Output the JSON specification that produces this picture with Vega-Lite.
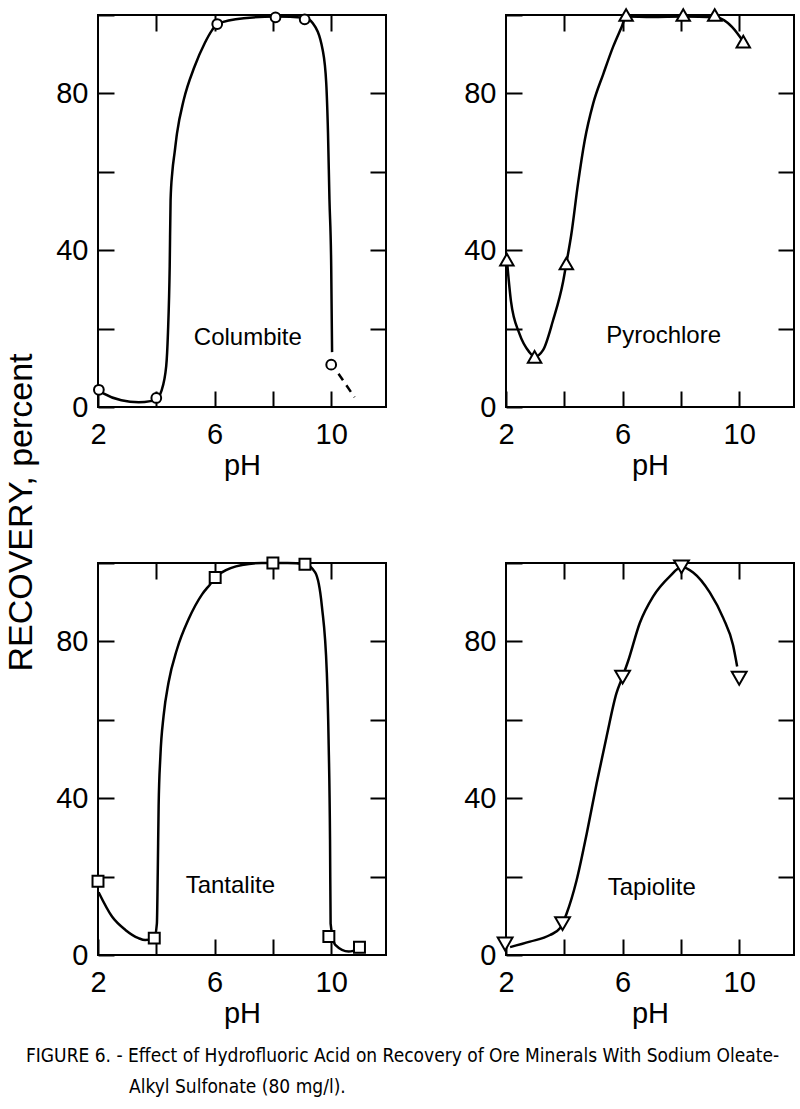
{
  "$schema": "https://vega.github.io/schema/vega-lite/v6.json",
  "padding": {"left": 3, "top": 0, "right": 2, "bottom": 2},
  "background": "white",
  "config": {
    "view": {"stroke": "black", "strokeWidth": 2},
    "axis": {"domain": false, "grid": false, "tickColor": "black", "tickWidth": 2, "labelFont": "Liberation Sans", "labelFontSize": 29, "labelColor": "black", "titleFont": "Liberation Sans", "titleFontSize": 29, "titleFontWeight": "normal", "titleColor": "black", "labelOverlap": false, "labelFlush": false}
  },
  "datasets": {
    "curves": [
      {"mineral": "Columbite", "seg": "solid", "pH": 2.03, "recovery": 4.2},
      {"mineral": "Columbite", "seg": "solid", "pH": 2.2, "recovery": 3.4},
      {"mineral": "Columbite", "seg": "solid", "pH": 2.8, "recovery": 1.7},
      {"mineral": "Columbite", "seg": "solid", "pH": 3.4, "recovery": 1.2},
      {"mineral": "Columbite", "seg": "solid", "pH": 3.8, "recovery": 1.5},
      {"mineral": "Columbite", "seg": "solid", "pH": 4.0, "recovery": 2.0},
      {"mineral": "Columbite", "seg": "solid", "pH": 4.17, "recovery": 4},
      {"mineral": "Columbite", "seg": "solid", "pH": 4.34, "recovery": 10.4},
      {"mineral": "Columbite", "seg": "solid", "pH": 4.4, "recovery": 18.9},
      {"mineral": "Columbite", "seg": "solid", "pH": 4.46, "recovery": 35.9},
      {"mineral": "Columbite", "seg": "solid", "pH": 4.49, "recovery": 52.8},
      {"mineral": "Columbite", "seg": "solid", "pH": 4.55, "recovery": 60},
      {"mineral": "Columbite", "seg": "solid", "pH": 4.63, "recovery": 65},
      {"mineral": "Columbite", "seg": "solid", "pH": 4.71, "recovery": 69.8},
      {"mineral": "Columbite", "seg": "solid", "pH": 4.94, "recovery": 78.3},
      {"mineral": "Columbite", "seg": "solid", "pH": 5.31, "recovery": 86.8},
      {"mineral": "Columbite", "seg": "solid", "pH": 5.66, "recovery": 92.8},
      {"mineral": "Columbite", "seg": "solid", "pH": 5.92, "recovery": 96.2},
      {"mineral": "Columbite", "seg": "solid", "pH": 6.09, "recovery": 97.7},
      {"mineral": "Columbite", "seg": "solid", "pH": 7.0, "recovery": 99.2},
      {"mineral": "Columbite", "seg": "solid", "pH": 8.09, "recovery": 99.6},
      {"mineral": "Columbite", "seg": "solid", "pH": 9.09, "recovery": 99.3},
      {"mineral": "Columbite", "seg": "solid", "pH": 9.37, "recovery": 97.9},
      {"mineral": "Columbite", "seg": "solid", "pH": 9.71, "recovery": 91},
      {"mineral": "Columbite", "seg": "solid", "pH": 9.83, "recovery": 82.6},
      {"mineral": "Columbite", "seg": "solid", "pH": 9.89, "recovery": 70},
      {"mineral": "Columbite", "seg": "solid", "pH": 9.94, "recovery": 53},
      {"mineral": "Columbite", "seg": "solid", "pH": 10.0, "recovery": 36},
      {"mineral": "Columbite", "seg": "solid", "pH": 10.03, "recovery": 14},
      {"mineral": "Columbite", "seg": "dash", "pH": 10.25, "recovery": 8.5},
      {"mineral": "Columbite", "seg": "dash", "pH": 10.8, "recovery": 2.5},
      {"mineral": "Pyrochlore", "seg": "solid", "pH": 2.03, "recovery": 37.6},
      {"mineral": "Pyrochlore", "seg": "solid", "pH": 2.17, "recovery": 27},
      {"mineral": "Pyrochlore", "seg": "solid", "pH": 2.46, "recovery": 18.7},
      {"mineral": "Pyrochlore", "seg": "solid", "pH": 2.8, "recovery": 14},
      {"mineral": "Pyrochlore", "seg": "solid", "pH": 2.98, "recovery": 12.8},
      {"mineral": "Pyrochlore", "seg": "solid", "pH": 3.27, "recovery": 14.5},
      {"mineral": "Pyrochlore", "seg": "solid", "pH": 3.61, "recovery": 22},
      {"mineral": "Pyrochlore", "seg": "solid", "pH": 3.96, "recovery": 32},
      {"mineral": "Pyrochlore", "seg": "solid", "pH": 4.07, "recovery": 36.6},
      {"mineral": "Pyrochlore", "seg": "solid", "pH": 4.24, "recovery": 44},
      {"mineral": "Pyrochlore", "seg": "solid", "pH": 4.47, "recovery": 57},
      {"mineral": "Pyrochlore", "seg": "solid", "pH": 4.7, "recovery": 68},
      {"mineral": "Pyrochlore", "seg": "solid", "pH": 4.99, "recovery": 77.4},
      {"mineral": "Pyrochlore", "seg": "solid", "pH": 5.34, "recovery": 85},
      {"mineral": "Pyrochlore", "seg": "solid", "pH": 5.68, "recovery": 92},
      {"mineral": "Pyrochlore", "seg": "solid", "pH": 5.97, "recovery": 97},
      {"mineral": "Pyrochlore", "seg": "solid", "pH": 6.12, "recovery": 99.6},
      {"mineral": "Pyrochlore", "seg": "solid", "pH": 7.0, "recovery": 99.5},
      {"mineral": "Pyrochlore", "seg": "solid", "pH": 8.08, "recovery": 99.6},
      {"mineral": "Pyrochlore", "seg": "solid", "pH": 9.16, "recovery": 99.4},
      {"mineral": "Pyrochlore", "seg": "solid", "pH": 9.6, "recovery": 98},
      {"mineral": "Pyrochlore", "seg": "solid", "pH": 9.94, "recovery": 95.3},
      {"mineral": "Pyrochlore", "seg": "solid", "pH": 10.14, "recovery": 93.2},
      {"mineral": "Tantalite", "seg": "solid", "pH": 2.02, "recovery": 16},
      {"mineral": "Tantalite", "seg": "solid", "pH": 2.48, "recovery": 9.8},
      {"mineral": "Tantalite", "seg": "solid", "pH": 2.94, "recovery": 6.4},
      {"mineral": "Tantalite", "seg": "solid", "pH": 3.39, "recovery": 4.3},
      {"mineral": "Tantalite", "seg": "solid", "pH": 3.62, "recovery": 3.8},
      {"mineral": "Tantalite", "seg": "solid", "pH": 3.93, "recovery": 4.3},
      {"mineral": "Tantalite", "seg": "solid", "pH": 4.02, "recovery": 8},
      {"mineral": "Tantalite", "seg": "solid", "pH": 4.05, "recovery": 21},
      {"mineral": "Tantalite", "seg": "solid", "pH": 4.08, "recovery": 38},
      {"mineral": "Tantalite", "seg": "solid", "pH": 4.14, "recovery": 50.7},
      {"mineral": "Tantalite", "seg": "solid", "pH": 4.25, "recovery": 61},
      {"mineral": "Tantalite", "seg": "solid", "pH": 4.42, "recovery": 69.5},
      {"mineral": "Tantalite", "seg": "solid", "pH": 4.71, "recovery": 78},
      {"mineral": "Tantalite", "seg": "solid", "pH": 5.11, "recovery": 85.7},
      {"mineral": "Tantalite", "seg": "solid", "pH": 5.57, "recovery": 92},
      {"mineral": "Tantalite", "seg": "solid", "pH": 5.85, "recovery": 94.6},
      {"mineral": "Tantalite", "seg": "solid", "pH": 6.02, "recovery": 96.3},
      {"mineral": "Tantalite", "seg": "solid", "pH": 6.25, "recovery": 97.6},
      {"mineral": "Tantalite", "seg": "solid", "pH": 6.94, "recovery": 99.5},
      {"mineral": "Tantalite", "seg": "solid", "pH": 7.62, "recovery": 100},
      {"mineral": "Tantalite", "seg": "solid", "pH": 8.0, "recovery": 100},
      {"mineral": "Tantalite", "seg": "solid", "pH": 8.5, "recovery": 100},
      {"mineral": "Tantalite", "seg": "solid", "pH": 9.1, "recovery": 99.7},
      {"mineral": "Tantalite", "seg": "solid", "pH": 9.45, "recovery": 97.6},
      {"mineral": "Tantalite", "seg": "solid", "pH": 9.68, "recovery": 89},
      {"mineral": "Tantalite", "seg": "solid", "pH": 9.85, "recovery": 72},
      {"mineral": "Tantalite", "seg": "solid", "pH": 9.91, "recovery": 55},
      {"mineral": "Tantalite", "seg": "solid", "pH": 9.96, "recovery": 29.4},
      {"mineral": "Tantalite", "seg": "solid", "pH": 9.98, "recovery": 8},
      {"mineral": "Tantalite", "seg": "solid", "pH": 10.14, "recovery": 2.6},
      {"mineral": "Tantalite", "seg": "solid", "pH": 10.6, "recovery": 0.9},
      {"mineral": "Tantalite", "seg": "solid", "pH": 10.97, "recovery": 1.5},
      {"mineral": "Tapiolite", "seg": "solid", "pH": 2.14, "recovery": 2},
      {"mineral": "Tapiolite", "seg": "solid", "pH": 2.82, "recovery": 3.4},
      {"mineral": "Tapiolite", "seg": "solid", "pH": 3.51, "recovery": 5.1},
      {"mineral": "Tapiolite", "seg": "solid", "pH": 3.85, "recovery": 6.8},
      {"mineral": "Tapiolite", "seg": "solid", "pH": 4.08, "recovery": 10.6},
      {"mineral": "Tapiolite", "seg": "solid", "pH": 4.42, "recovery": 19},
      {"mineral": "Tapiolite", "seg": "solid", "pH": 4.77, "recovery": 31},
      {"mineral": "Tapiolite", "seg": "solid", "pH": 5.11, "recovery": 43.8},
      {"mineral": "Tapiolite", "seg": "solid", "pH": 5.45, "recovery": 55.7},
      {"mineral": "Tapiolite", "seg": "solid", "pH": 5.79, "recovery": 66.8},
      {"mineral": "Tapiolite", "seg": "solid", "pH": 6.0, "recovery": 71},
      {"mineral": "Tapiolite", "seg": "solid", "pH": 6.19, "recovery": 75},
      {"mineral": "Tapiolite", "seg": "solid", "pH": 6.59, "recovery": 84.7},
      {"mineral": "Tapiolite", "seg": "solid", "pH": 7.05, "recovery": 91.5},
      {"mineral": "Tapiolite", "seg": "solid", "pH": 7.62, "recovery": 96.6},
      {"mineral": "Tapiolite", "seg": "solid", "pH": 8.02, "recovery": 99},
      {"mineral": "Tapiolite", "seg": "solid", "pH": 8.42, "recovery": 97.6},
      {"mineral": "Tapiolite", "seg": "solid", "pH": 8.99, "recovery": 92.5},
      {"mineral": "Tapiolite", "seg": "solid", "pH": 9.45, "recovery": 86},
      {"mineral": "Tapiolite", "seg": "solid", "pH": 9.79, "recovery": 79},
      {"mineral": "Tapiolite", "seg": "solid", "pH": 9.93, "recovery": 73.6}
    ],
    "points": [
      {"mineral": "Columbite", "pH": 2.03, "recovery": 4.4},
      {"mineral": "Columbite", "pH": 4.0, "recovery": 2.3},
      {"mineral": "Columbite", "pH": 6.09, "recovery": 97.7},
      {"mineral": "Columbite", "pH": 8.09, "recovery": 99.4},
      {"mineral": "Columbite", "pH": 9.09, "recovery": 98.9},
      {"mineral": "Columbite", "pH": 10.0, "recovery": 10.8},
      {"mineral": "Pyrochlore", "pH": 2.03, "recovery": 37.6},
      {"mineral": "Pyrochlore", "pH": 2.98, "recovery": 12.8},
      {"mineral": "Pyrochlore", "pH": 4.07, "recovery": 36.6},
      {"mineral": "Pyrochlore", "pH": 6.12, "recovery": 100},
      {"mineral": "Pyrochlore", "pH": 8.08, "recovery": 100},
      {"mineral": "Pyrochlore", "pH": 9.16, "recovery": 100},
      {"mineral": "Pyrochlore", "pH": 10.14, "recovery": 93.2},
      {"mineral": "Tantalite", "pH": 2.0, "recovery": 18.8},
      {"mineral": "Tantalite", "pH": 3.93, "recovery": 4.3},
      {"mineral": "Tantalite", "pH": 6.02, "recovery": 96.3},
      {"mineral": "Tantalite", "pH": 8.0, "recovery": 100},
      {"mineral": "Tantalite", "pH": 9.1, "recovery": 99.7},
      {"mineral": "Tantalite", "pH": 9.92, "recovery": 4.7},
      {"mineral": "Tantalite", "pH": 10.97, "recovery": 2},
      {"mineral": "Tapiolite", "pH": 1.97, "recovery": 2.8},
      {"mineral": "Tapiolite", "pH": 3.94, "recovery": 8},
      {"mineral": "Tapiolite", "pH": 6.0, "recovery": 70.9},
      {"mineral": "Tapiolite", "pH": 8.02, "recovery": 99},
      {"mineral": "Tapiolite", "pH": 10.0, "recovery": 70.6}
    ],
    "labels": [
      {"mineral": "Columbite", "label": "Columbite", "pH": 7.14, "recovery": 17.6},
      {"mineral": "Pyrochlore", "label": "Pyrochlore", "pH": 7.41, "recovery": 18},
      {"mineral": "Tantalite", "label": "Tantalite", "pH": 6.54, "recovery": 17.5},
      {"mineral": "Tapiolite", "label": "Tapiolite", "pH": 7.0, "recovery": 17}
    ]
  },
  "title": {"text": "Alkyl Sulfonate (80 mg/l).", "orient": "bottom", "anchor": "start", "frame": "group", "dx": 31, "offset": 12, "font": "DejaVu Sans Condensed, sans-serif", "fontSize": 19, "fontWeight": "normal", "color": "black", "baseline": "top"},
  "vconcat": [
    {
      "title": {"text": "FIGURE 6. - Effect of Hydrofluoric Acid on Recovery of Ore Minerals With Sodium Oleate-", "orient": "bottom", "anchor": "start", "frame": "group", "dx": -72, "offset": 18, "font": "DejaVu Sans Condensed, sans-serif", "fontSize": 19, "fontWeight": "normal", "color": "black", "baseline": "top"},
      "columns": 2,
      "spacing": {"row": 156, "column": 120},
      "bounds": "flush",
      "concat": [
        {
          "width": 288, "height": 392,
          "layer": [
            {"data": {"name": "curves"}, "transform": [{"filter": "datum.mineral === 'Columbite' && datum.seg === 'solid'"}],
             "mark": {"type": "line", "interpolate": "monotone", "color": "black", "strokeWidth": 2.5},
             "encoding": {
               "x": {"field": "pH", "type": "quantitative", "scale": {"domain": [2, 11.88], "nice": false, "zero": false}, "axis": {"orient": "bottom", "values": [2, 4, 6, 8, 10], "tickSize": -16, "labelPadding": 29, "labelBaseline": "top", "labelExpr": "(datum.value == 2 || datum.value == 6 || datum.value == 10) ? datum.label : ''", "title": "pH", "titlePadding": 2}},
               "y": {"field": "recovery", "type": "quantitative", "scale": {"domain": [0, 100], "nice": false}, "axis": {"orient": "left", "values": [0, 20, 40, 60, 80, 100], "tickSize": -16, "labelPadding": 26, "labelBaseline": "middle", "labelExpr": "(datum.value == 0 || datum.value == 40 || datum.value == 80) ? datum.label : ''", "title": "RECOVERY, percent", "titleFontSize": 34, "titleX": -67, "titleY": 497, "titleAngle": 270, "titleBaseline": "alphabetic", "titleAlign": "center"}}
             }},
            {"data": {"name": "points"}, "transform": [{"filter": "datum.mineral === 'Columbite'"}],
             "mark": {"type": "point", "shape": "circle", "filled": true, "fill": "white", "stroke": "black", "strokeWidth": 2, "size": 95, "opacity": 1},
             "encoding": {
               "x": {"field": "pH", "type": "quantitative", "scale": {"domain": [2, 11.88], "nice": false, "zero": false}, "axis": {"orient": "top", "values": [4, 6, 8, 10], "tickSize": -16, "labels": false, "title": null}},
               "y": {"field": "recovery", "type": "quantitative", "scale": {"domain": [0, 100], "nice": false}, "axis": {"orient": "right", "values": [20, 40, 60, 80], "tickSize": -16, "labels": false, "title": null}}
             }},
            {"data": {"name": "curves"}, "transform": [{"filter": "datum.mineral === 'Columbite' && datum.seg === 'dash'"}],
             "mark": {"type": "line", "color": "black", "strokeWidth": 2.5, "strokeDash": [8, 6]},
             "encoding": {
               "x": {"field": "pH", "type": "quantitative", "axis": null},
               "y": {"field": "recovery", "type": "quantitative", "axis": null}
             }},
            {"data": {"name": "labels"}, "transform": [{"filter": "datum.mineral === 'Columbite'"}],
             "mark": {"type": "text", "font": "Liberation Sans", "fontSize": 24, "align": "center", "baseline": "middle", "color": "black"},
             "encoding": {
               "x": {"field": "pH", "type": "quantitative", "axis": null},
               "y": {"field": "recovery", "type": "quantitative", "axis": null},
               "text": {"field": "label"}
             }}
          ],
          "resolve": {"axis": {"x": "independent", "y": "independent"}}
        },
        {
          "width": 288, "height": 392,
          "layer": [
            {"data": {"name": "curves"}, "transform": [{"filter": "datum.mineral === 'Pyrochlore'"}],
             "mark": {"type": "line", "interpolate": "monotone", "color": "black", "strokeWidth": 2.5},
             "encoding": {
               "x": {"field": "pH", "type": "quantitative", "scale": {"domain": [2, 11.88], "nice": false, "zero": false}, "axis": {"orient": "bottom", "values": [2, 4, 6, 8, 10], "tickSize": -16, "labelPadding": 29, "labelBaseline": "top", "labelExpr": "(datum.value == 2 || datum.value == 6 || datum.value == 10) ? datum.label : ''", "title": "pH", "titlePadding": 2}},
               "y": {"field": "recovery", "type": "quantitative", "scale": {"domain": [0, 100], "nice": false}, "axis": {"orient": "left", "values": [0, 20, 40, 60, 80, 100], "tickSize": -16, "labelPadding": 26, "labelBaseline": "middle", "labelExpr": "(datum.value == 0 || datum.value == 40 || datum.value == 80) ? datum.label : ''", "title": null}}
             }},
            {"data": {"name": "points"}, "transform": [{"filter": "datum.mineral === 'Pyrochlore'"}],
             "mark": {"type": "point", "shape": "triangle-up", "filled": true, "fill": "white", "stroke": "black", "strokeWidth": 2, "size": 180, "opacity": 1},
             "encoding": {
               "x": {"field": "pH", "type": "quantitative", "scale": {"domain": [2, 11.88], "nice": false, "zero": false}, "axis": {"orient": "top", "values": [4, 6, 8, 10], "tickSize": -16, "labels": false, "title": null}},
               "y": {"field": "recovery", "type": "quantitative", "scale": {"domain": [0, 100], "nice": false}, "axis": {"orient": "right", "values": [20, 40, 60, 80], "tickSize": -16, "labels": false, "title": null}}
             }},
            {"data": {"name": "labels"}, "transform": [{"filter": "datum.mineral === 'Pyrochlore'"}],
             "mark": {"type": "text", "font": "Liberation Sans", "fontSize": 24, "align": "center", "baseline": "middle", "color": "black"},
             "encoding": {
               "x": {"field": "pH", "type": "quantitative", "axis": null},
               "y": {"field": "recovery", "type": "quantitative", "axis": null},
               "text": {"field": "label"}
             }}
          ],
          "resolve": {"axis": {"x": "independent", "y": "independent"}}
        },
        {
          "width": 288, "height": 392,
          "layer": [
            {"data": {"name": "curves"}, "transform": [{"filter": "datum.mineral === 'Tantalite'"}],
             "mark": {"type": "line", "interpolate": "monotone", "color": "black", "strokeWidth": 2.5},
             "encoding": {
               "x": {"field": "pH", "type": "quantitative", "scale": {"domain": [2, 11.88], "nice": false, "zero": false}, "axis": {"orient": "bottom", "values": [2, 4, 6, 8, 10], "tickSize": -16, "labelPadding": 29, "labelBaseline": "top", "labelExpr": "(datum.value == 2 || datum.value == 6 || datum.value == 10) ? datum.label : ''", "title": "pH", "titlePadding": 2}},
               "y": {"field": "recovery", "type": "quantitative", "scale": {"domain": [0, 100], "nice": false}, "axis": {"orient": "left", "values": [0, 20, 40, 60, 80, 100], "tickSize": -16, "labelPadding": 26, "labelBaseline": "middle", "labelExpr": "(datum.value == 0 || datum.value == 40 || datum.value == 80) ? datum.label : ''", "title": null}}
             }},
            {"data": {"name": "points"}, "transform": [{"filter": "datum.mineral === 'Tantalite'"}],
             "mark": {"type": "point", "shape": "square", "filled": true, "fill": "white", "stroke": "black", "strokeWidth": 2, "size": 120, "opacity": 1},
             "encoding": {
               "x": {"field": "pH", "type": "quantitative", "scale": {"domain": [2, 11.88], "nice": false, "zero": false}, "axis": {"orient": "top", "values": [4, 6, 8, 10], "tickSize": -16, "labels": false, "title": null}},
               "y": {"field": "recovery", "type": "quantitative", "scale": {"domain": [0, 100], "nice": false}, "axis": {"orient": "right", "values": [20, 40, 60, 80], "tickSize": -16, "labels": false, "title": null}}
             }},
            {"data": {"name": "labels"}, "transform": [{"filter": "datum.mineral === 'Tantalite'"}],
             "mark": {"type": "text", "font": "Liberation Sans", "fontSize": 24, "align": "center", "baseline": "middle", "color": "black"},
             "encoding": {
               "x": {"field": "pH", "type": "quantitative", "axis": null},
               "y": {"field": "recovery", "type": "quantitative", "axis": null},
               "text": {"field": "label"}
             }}
          ],
          "resolve": {"axis": {"x": "independent", "y": "independent"}}
        },
        {
          "width": 288, "height": 392,
          "layer": [
            {"data": {"name": "curves"}, "transform": [{"filter": "datum.mineral === 'Tapiolite'"}],
             "mark": {"type": "line", "interpolate": "monotone", "color": "black", "strokeWidth": 2.5},
             "encoding": {
               "x": {"field": "pH", "type": "quantitative", "scale": {"domain": [2, 11.88], "nice": false, "zero": false}, "axis": {"orient": "bottom", "values": [2, 4, 6, 8, 10], "tickSize": -16, "labelPadding": 29, "labelBaseline": "top", "labelExpr": "(datum.value == 2 || datum.value == 6 || datum.value == 10) ? datum.label : ''", "title": "pH", "titlePadding": 2}},
               "y": {"field": "recovery", "type": "quantitative", "scale": {"domain": [0, 100], "nice": false}, "axis": {"orient": "left", "values": [0, 20, 40, 60, 80, 100], "tickSize": -16, "labelPadding": 26, "labelBaseline": "middle", "labelExpr": "(datum.value == 0 || datum.value == 40 || datum.value == 80) ? datum.label : ''", "title": null}}
             }},
            {"data": {"name": "points"}, "transform": [{"filter": "datum.mineral === 'Tapiolite'"}],
             "mark": {"type": "point", "shape": "triangle-down", "filled": true, "fill": "white", "stroke": "black", "strokeWidth": 2, "size": 220, "opacity": 1},
             "encoding": {
               "x": {"field": "pH", "type": "quantitative", "scale": {"domain": [2, 11.88], "nice": false, "zero": false}, "axis": {"orient": "top", "values": [4, 6, 8, 10], "tickSize": -16, "labels": false, "title": null}},
               "y": {"field": "recovery", "type": "quantitative", "scale": {"domain": [0, 100], "nice": false}, "axis": {"orient": "right", "values": [20, 40, 60, 80], "tickSize": -16, "labels": false, "title": null}}
             }},
            {"data": {"name": "labels"}, "transform": [{"filter": "datum.mineral === 'Tapiolite'"}],
             "mark": {"type": "text", "font": "Liberation Sans", "fontSize": 24, "align": "center", "baseline": "middle", "color": "black"},
             "encoding": {
               "x": {"field": "pH", "type": "quantitative", "axis": null},
               "y": {"field": "recovery", "type": "quantitative", "axis": null},
               "text": {"field": "label"}
             }}
          ],
          "resolve": {"axis": {"x": "independent", "y": "independent"}}
        }
      ]
    }
  ]
}
